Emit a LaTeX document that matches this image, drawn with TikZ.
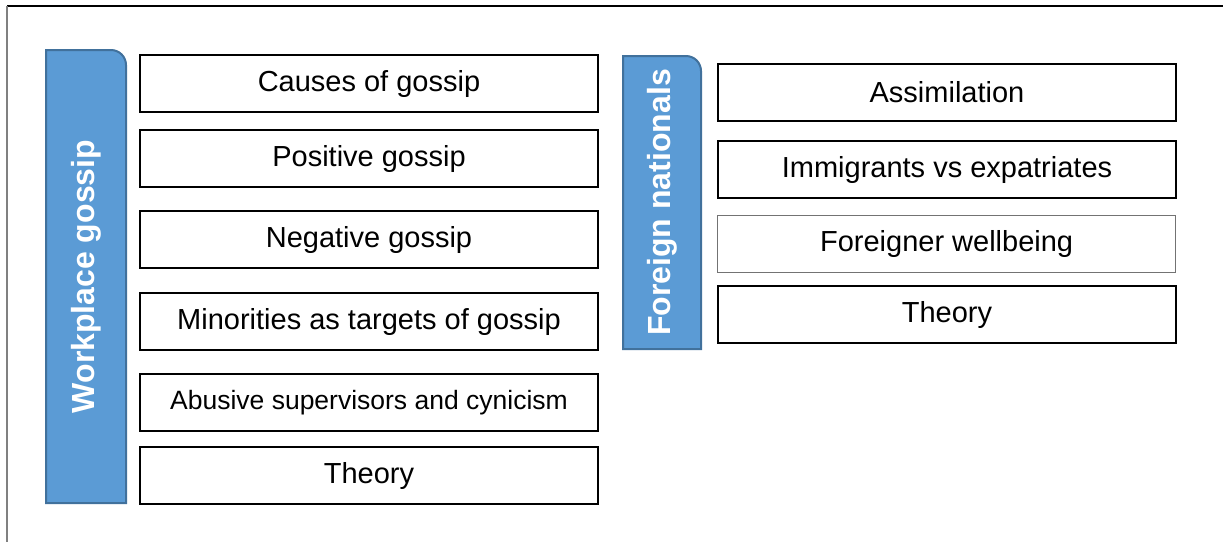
\documentclass[tikz,border=0pt]{standalone}
\usepackage{fontspec}
\setmainfont{Liberation Sans}
\definecolor{bluefill}{HTML}{5B9BD5}
\definecolor{blueedge}{HTML}{41719C}
\tikzset{
  x=1pt, y=-1pt,
  catbox/.style={draw=blueedge, fill=bluefill, line width=2pt},
  catlabel/.style={text=white, font=\fontsize{32}{38}\selectfont\bfseries, rotate=90, inner sep=0pt},
  itembox/.style={draw=black, line width=2pt, fill=white, minimum width=458pt, minimum height=57pt, inner sep=0pt,
    font=\fontsize{29}{34}\selectfont, anchor=north west},
  itemboxthin/.style={itembox, draw=black!55, line width=1.2pt},
  frameline/.style={line width=1.5pt}
}
\begin{document}
\begin{tikzpicture}
\useasboundingbox (0,0) rectangle (1224,542);
% outer frame (only top and left visible)
\coordinate (ftl) at (7,6);
\coordinate (ftr) at (1223,6);
\coordinate (fbl) at (7,542);
\draw[frameline, black] (ftl) -- (ftr);
\draw[frameline, black!50] (ftl) -- (fbl);

% left category box
\draw[catbox] (46,503) -- (46,50) -- (111,50) .. controls (119.3,50) and (126,56.7) .. (126,65) -- (126,503) -- cycle;
\node[catlabel] (wg) at (86,276.5) {Workplace gossip};

% right category box
\draw[catbox] (623,349) -- (623,56) -- (686,56) .. controls (694.3,56) and (701,62.7) .. (701,71) -- (701,349) -- cycle;
\node[catlabel] (fn) at (662,202.5) {Foreign nationals};

% left items
\node[itembox] (l1) at (139,54)  {Causes of gossip};
\node[itembox] (l2) at (139,129) {Positive gossip};
\node[itembox] (l3) at (139,210) {Negative gossip};
\node[itembox] (l4) at (139,292) {Minorities as targets of gossip};
\node[itembox, font=\fontsize{26.5}{31}\selectfont] (l5) at (139,373) {Abusive supervisors and cynicism};
\node[itembox] (l6) at (139,446) {Theory};

% right items
\node[itembox] (r1) at (717,63)  {Assimilation};
\node[itembox] (r2) at (717,140) {Immigrants vs expatriates};
\node[itemboxthin] (r3) at (717,215) {Foreigner wellbeing};
\node[itembox] (r4) at (717,285) {Theory};
\end{tikzpicture}
\end{document}
